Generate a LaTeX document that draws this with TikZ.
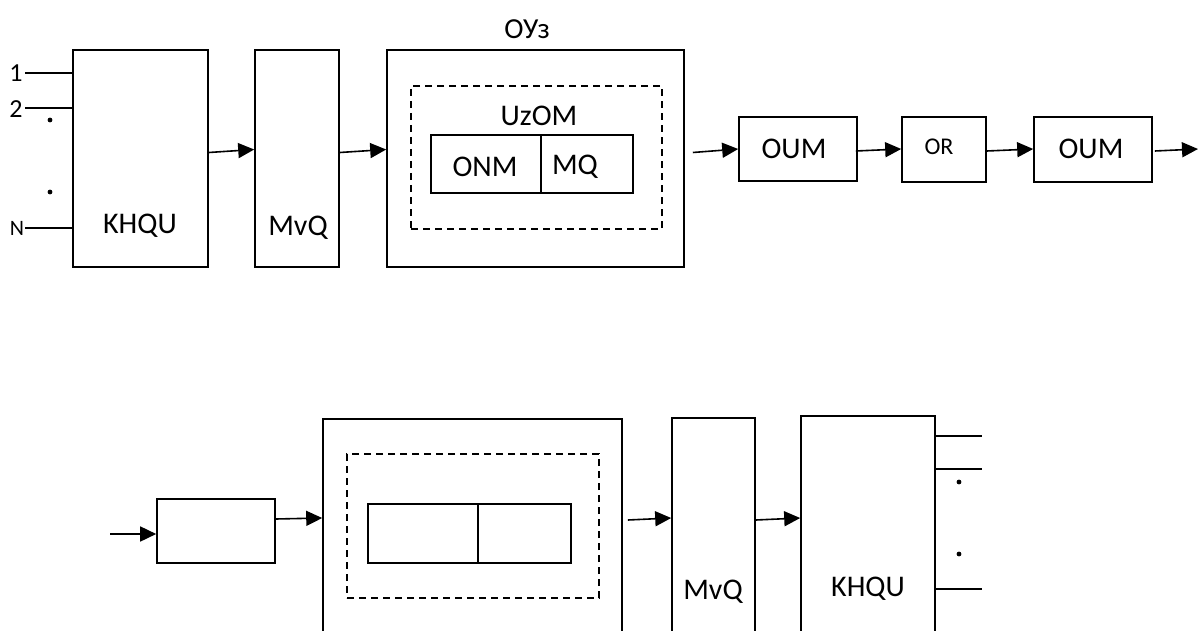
\documentclass[tikz,border=0pt]{standalone}
\usepackage{fontspec}
\setmainfont{Carlito}
\usetikzlibrary{arrows.meta}

\tikzset{
  blk/.style 2 args={draw, line width=1.6pt, inner sep=0pt, minimum width=#1, minimum height=#2},
  dashblk/.style 2 args={blk={#1}{#2}, dashed, dash pattern=on 7pt off 5pt},
  txt/.style={inner sep=0pt, font=\fontsize{30}{36}\selectfont},
  arr/.style={line width=1.6pt, -{Triangle[length=16pt,width=15pt]}},
  wire/.style={line width=1.6pt}
}

\begin{document}
\begin{tikzpicture}[x=1pt, y=-1pt]
  \useasboundingbox (0,0) rectangle (1198,631);
  \clip (0,0) rectangle (1198,631);

  % obere Reihe: Bloecke
  \node[blk={135pt}{217pt}] (khqu) at (140.5,158.5) {};
  \node[blk={84pt}{217pt}] (mvq) at (297,158.5) {};
  \node[blk={297pt}{217pt}] (ouz) at (535.5,158.5) {};
  \node[dashblk={251pt}{143pt}] (uzom) at (536.5,157.5) {};
  \node[blk={110pt}{58pt}] (onm) at (486,164) {};
  \node[blk={92pt}{58pt}] (mq) at (587,164) {};
  \node[blk={118pt}{64pt}] (oum) at (798,149) {};
  \node[blk={84pt}{65pt}] (or) at (944,149.5) {};
  \node[blk={118pt}{65pt}] (oumb) at (1093,149.5) {};

  % obere Reihe: Texte
  \node[txt] (tkhqu) at (140,226) {KHQU};
  \node[txt] (tmvq) at (298,228) {MvQ};
  \node[txt, font=\fontsize{29}{34}\selectfont] (touz) at (527,29) {ОУз};
  \node[txt] (tuzom) at (539,116) {UzOM};
  \node[txt] (tonm) at (485,167) {ONM};
  \node[txt] (tmq) at (575,167) {MQ};
  \node[txt] (toum) at (794,149) {OUM};
  \node[txt, font=\fontsize{24}{28}\selectfont] (tor) at (939,147) {OR};
  \node[txt] (toumb) at (1091,149) {OUM};

  % Eingaenge
  \node[txt, font=\fontsize{26}{30}\selectfont] (n1) at (16,73) {1};
  \node[txt, font=\fontsize{26}{30}\selectfont] (n2) at (16,109) {2};
  \node[txt, font=\fontsize{22}{26}\selectfont] (nn) at (17,228) {N};
  \coordinate (in1) at (25,73);
  \coordinate (in2) at (25,108);
  \coordinate (inn) at (25,228);
  \draw[wire] (in1) -- (khqu.west |- in1);
  \draw[wire] (in2) -- (khqu.west |- in2);
  \draw[wire] (inn) -- (khqu.west |- inn);
  \fill (50,120) circle (2.4pt);
  \fill (50,192) circle (2.4pt);

  % obere Reihe: Pfeile
  \draw[arr] ([yshift=6pt]khqu.east) -- ([yshift=9pt]mvq.west);
  \draw[arr] ([yshift=6pt]mvq.east) -- ([yshift=9pt]ouz.west);
  \draw[arr] ([xshift=8pt,yshift=6pt]ouz.east) -- (oum.west);
  \draw[arr] ([xshift=-2pt,yshift=-2pt]oum.east) -- ([yshift=0.5pt]or.west);
  \draw[arr] ([yshift=-1.5pt]or.east) -- ([yshift=0.5pt]oumb.west);
  \coordinate (out) at (1198,149);
  \draw[arr] ([xshift=2pt,yshift=-1.5pt]oumb.east) -- (out);

  % untere Reihe: Bloecke
  \node[blk={118pt}{64pt}] (sm) at (216,531) {};
  \node[blk={299pt}{217pt}] (big) at (472.5,527.5) {};
  \node[dashblk={252pt}{144pt}] (bdash) at (473,526) {};
  \node[blk={110pt}{59pt}] (bonm) at (423,533.5) {};
  \node[blk={93pt}{59pt}] (bmq) at (524.5,533.5) {};
  \node[blk={83pt}{217pt}] (mvqb) at (713.5,526.5) {};
  \node[blk={134pt}{217pt}] (khqub) at (868,524.5) {};
  \node[txt] (tmvqb) at (713,592) {MvQ};
  \node[txt] (tkhqub) at (868,589) {KHQU};

  % Ausgaenge
  \coordinate (o1) at (982,436);
  \coordinate (o2) at (982,469);
  \coordinate (on) at (982,589);
  \draw[wire] (khqub.east |- o1) -- (o1);
  \draw[wire] (khqub.east |- o2) -- (o2);
  \draw[wire] (khqub.east |- on) -- (on);
  \fill (959,482) circle (2.4pt);
  \fill (959,554) circle (2.4pt);

  % untere Reihe: Pfeile
  \coordinate (inb) at (110,534);
  \draw[arr] (inb) -- (sm.west |- inb);
  \draw[arr] ([yshift=12pt]sm.east) -- ([yshift=9.5pt]big.west);
  \draw[arr] ([xshift=5pt,yshift=7.5pt]big.east) -- ([yshift=8.5pt]mvqb.west);
  \draw[arr] ([yshift=6.5pt]mvqb.east) -- ([yshift=6.5pt]khqub.west);
\end{tikzpicture}
\end{document}
